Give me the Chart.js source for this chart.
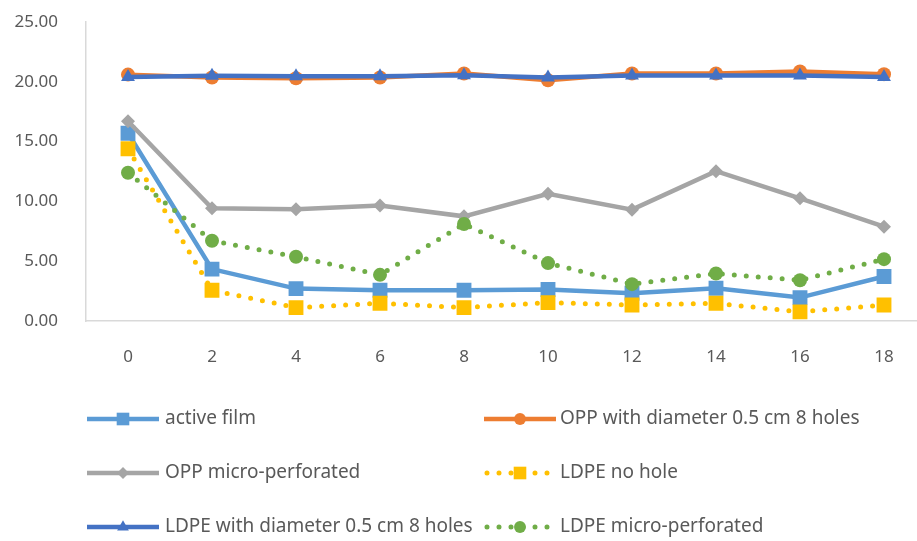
<!DOCTYPE html>
<html>
<head>
<meta charset="utf-8">
<script src="https://cdn.jsdelivr.net/npm/chart.js@4/dist/chart.umd.min.js"></script>
<style>
  html, body { margin: 0; padding: 0; background: #fff; overflow: hidden; }
  #wrap { position: relative; width: 940px; height: 541px; }
</style>
</head>
<body>
<div id="wrap"><canvas id="c" width="940" height="541"></canvas></div>
<script>
// Storage time (days)
const days = ['0', '2', '4', '6', '8', '10', '12', '14', '16', '18'];

// Series values
const activeFilm     = [15.7, 4.34, 2.71, 2.57, 2.57, 2.63, 2.32, 2.74, 1.96, 3.72];
const oppHoles       = [20.6, 20.36, 20.3, 20.36, 20.7, 20.13, 20.7, 20.7, 20.86, 20.64];
const oppMicro       = [16.7, 9.42, 9.34, 9.65, 8.75, 10.63, 9.31, 12.53, 10.26, 7.89];
const ldpeNoHole     = [14.4, 2.57, 1.12, 1.48, 1.12, 1.54, 1.34, 1.48, 0.76, 1.34];
const ldpeHoles      = [20.4, 20.5, 20.47, 20.47, 20.55, 20.36, 20.53, 20.53, 20.53, 20.41];
const ldpeMicro      = [12.4, 6.71, 5.37, 3.86, 8.11, 4.84, 3.08, 3.97, 3.41, 5.17];

// Axis ticks
const yTicks = [0, 5, 10, 15, 20, 25];

const seriesNames = [
  'active film',
  'OPP with diameter 0.5 cm 8 holes',
  'OPP micro-perforated',
  'LDPE no hole',
  'LDPE with diameter 0.5 cm 8 holes',
  'LDPE micro-perforated'
];

const FONT = '"Noto Sans", "Open Sans", sans-serif';
const TEXT = '#595959';

function series(label, data, color, style, radius, idx, isDotted) {
  const ds = {
    label, data,
    borderColor: color, backgroundColor: color,
    pointBorderColor: color, pointBackgroundColor: color,
    borderWidth: 4.5,
    pointStyle: style, pointRadius: radius, pointHoverRadius: radius,
    pointBorderWidth: 0,
    tension: 0,
    order: 10 - idx
  };
  if (isDotted) {
    ds.borderWidth = 5;
    ds.borderDash = [0, 12];
    ds.borderCapStyle = 'round';
  }
  return ds;
}

const datasets = [
  series(seriesNames[0], activeFilm, '#5B9BD5', 'rect', 10.5, 0, false),
  series(seriesNames[1], oppHoles, '#ED7D31', 'circle', 7, 1, false),
  series(seriesNames[2], oppMicro, '#A5A5A5', 'rectRot', 7, 2, false),
  series(seriesNames[3], ldpeNoHole, '#FFC000', 'rect', 10.5, 3, true),
  series(seriesNames[4], ldpeHoles, '#4472C4', 'triangle', 8, 4, false),
  series(seriesNames[5], ldpeMicro, '#70AD47', 'circle', 7, 5, true)
];

// Two-column legend drawn beneath the plot
const legendGrid = {
  id: 'legendGrid',
  afterDraw(chart) {
    const ctx = chart.ctx;
    const cols = [{ line: 87, text: 165 }, { line: 484, text: 560 }];
    const rows = [419, 473, 527];
    const sampleW = 72;
    chart.data.datasets.forEach((ds, i) => {
      const c = cols[i % 2];
      const y = rows[Math.floor(i / 2)];
      ctx.save();
      ctx.strokeStyle = ds.borderColor;
      ctx.lineWidth = ds.borderWidth;
      ctx.lineCap = ds.borderDash ? 'round' : 'butt';
      ctx.setLineDash(ds.borderDash || []);
      ctx.beginPath();
      ctx.moveTo(c.line + (ds.borderDash ? 3 : 0), y);
      ctx.lineTo(c.line + sampleW, y);
      ctx.stroke();
      ctx.setLineDash([]);
      ctx.fillStyle = ds.backgroundColor;
      ctx.strokeStyle = ds.backgroundColor;
      Chart.helpers.drawPoint(ctx, {
        pointStyle: ds.pointStyle,
        radius: ds.pointRadius * 0.85,
        rotation: 0,
        borderWidth: 0
      }, c.line + sampleW / 2, y);
      ctx.fillStyle = TEXT;
      ctx.font = '19px ' + FONT;
      ctx.textBaseline = 'middle';
      ctx.textAlign = 'left';
      ctx.fillText(ds.label, c.text, y);
      ctx.restore();
    });
  }
};

new Chart(document.getElementById('c'), {
  type: 'line',
  data: { labels: days, datasets },
  options: {
    responsive: false,
    animation: false,
    layout: { padding: { top: 22, right: 14, left: 0, bottom: 0 } },
    plugins: { legend: { display: false }, tooltip: { enabled: false } },
    scales: {
      x: {
        offset: true,
        grid: { display: false, drawTicks: false },
        border: { display: true, color: '#D9D9D9', width: 1.5 },
        ticks: { color: TEXT, font: { family: FONT, size: 17 }, padding: 26 },
        afterFit(scale) { scale.height = 220; scale.paddingLeft = 0; scale.paddingRight = 0; }
      },
      y: {
        min: 0, max: 25,
        afterBuildTicks(scale) { scale.ticks = yTicks.map(v => ({ value: v })); },
        grid: { display: false, drawTicks: false },
        border: { display: true, color: '#D9D9D9', width: 1.5 },
        ticks: {
          color: TEXT, font: { family: FONT, size: 17 }, padding: 28,
          callback: v => Number(v).toFixed(2)
        },
        afterFit(scale) { scale.width = 86; scale.paddingTop = 0; scale.paddingBottom = 0; }
      }
    }
  },
  plugins: [legendGrid]
});
</script>
</body>
</html>
